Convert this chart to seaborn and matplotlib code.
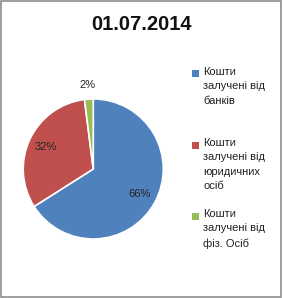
import matplotlib
matplotlib.use("Agg")
import matplotlib.pyplot as plt
import seaborn as sns
from matplotlib.patches import Rectangle

title = "01.07.2014"
categories = ["Кошти\nзалучені від\nбанків",
              "Кошти\nзалучені від\nюридичних\nосіб",
              "Кошти\nзалучені від\nфіз. Осіб"]
values = [66, 32, 2]
colors = ["#4F81BD", "#C0504D", "#9BBB59"]

sns.set_theme(style="white")
plt.rcParams['font.family'] = ['Liberation Sans', 'DejaVu Sans']

fig = plt.figure(figsize=(2.83, 2.98), dpi=100)
fig.patch.set_facecolor("white")
ax = fig.add_axes([0.082, 0.198, 0.495, 0.470])
wedges, texts, autotexts = ax.pie(
    values, colors=colors, startangle=90, counterclock=False,
    autopct=lambda p: f"{p:.0f}%", pctdistance=0.75,
    wedgeprops=dict(edgecolor="white", linewidth=1.2),
    textprops=dict(fontsize=8, color="#222222"))
# move the small slice's label outside the pie
x, y = autotexts[2].get_position()
autotexts[2].set_position((x * 1.6, y * 1.6))
ax.set_xlim(-1.0, 1.0)
ax.set_ylim(-1.0, 1.0)
ax.set_aspect("equal")

fig.text(0.5, 0.918, title, ha="center", va="center",
         fontsize=14.5, fontweight="bold", color="#111111")

# legend drawn manually (marker aligned with first line)
fig_h = 298
fig_w = 283
tops = [74, 145, 216]
for lab, col, t in zip(categories, colors, tops):
    fig.patches.append(Rectangle(((192) / fig_w, 1 - (t + 3.5) / fig_h),
                                 7 / fig_w, 7 / fig_h,
                                 transform=fig.transFigure, facecolor=col,
                                 edgecolor="none"))
    fig.text(203 / fig_w, 1 - (t - 7) / fig_h, lab, ha="left", va="top",
             fontsize=8, color="#222222", linespacing=1.55)

fig.patches.append(Rectangle((0.002, 0.002), 0.99, 0.995,
                             transform=fig.transFigure, fill=False,
                             edgecolor="#8c8c8c", linewidth=1.2))
fig.savefig("out.png", dpi=100, facecolor="white")
